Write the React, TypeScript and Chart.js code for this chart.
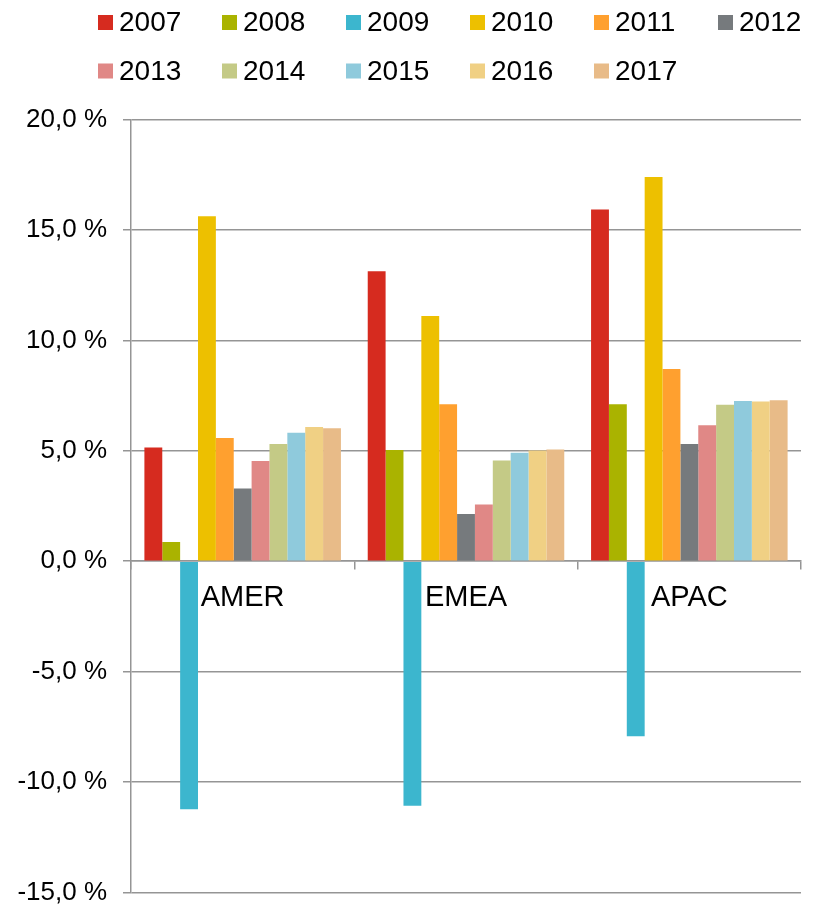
import React, { useEffect, useRef } from "react";
import { Chart, registerables } from "chart.js";

Chart.register(...registerables);

const categories = ["AMER", "EMEA", "APAC"];
const years = ["2007", "2008", "2009", "2010", "2011", "2012", "2013", "2014", "2015", "2016", "2017"];

const v2007 = [5.15, 13.13, 15.93];
const v2008 = [0.87, 5.03, 7.1];
const v2009 = [-11.23, -11.08, -7.93];
const v2010 = [15.62, 11.1, 17.4];
const v2011 = [5.58, 7.1, 8.7];
const v2012 = [3.29, 2.13, 5.31];
const v2013 = [4.53, 2.57, 6.16];
const v2014 = [5.3, 4.56, 7.08];
const v2015 = [5.81, 4.91, 7.25];
const v2016 = [6.07, 5.01, 7.23];
const v2017 = [6.02, 5.06, 7.29];

const seriesValues = [v2007, v2008, v2009, v2010, v2011, v2012, v2013, v2014, v2015, v2016, v2017];
const seriesColors = [
  "#D62B1F", "#AAB300", "#3CB6CE", "#EDC000", "#FFA02F", "#767A7D",
  "#E08886", "#C4CA86", "#8FCADC", "#F0D084", "#E8BB88",
];

const yMin = -15;
const yMax = 20;
const yStep = 5;

const FONT = "'Liberation Sans', Arial, sans-serif";
const GRID = "#959595";

const legendPlugin = {
  id: "customLegend",
  afterDraw(chart: any) {
    const ctx = chart.ctx;
    const startX = 98;
    const stepX = 124;
    const rowY = [22.5, 71];
    const perRow = 6;
    const box = 15;
    ctx.save();
    ctx.font = `28px ${FONT}`;
    ctx.textBaseline = "middle";
    ctx.textAlign = "left";
    chart.data.datasets.forEach((ds: any, i: number) => {
      const row = Math.floor(i / perRow);
      const col = i % perRow;
      const x = startX + col * stepX;
      const y = rowY[row];
      ctx.fillStyle = ds.backgroundColor;
      ctx.fillRect(x, y - box / 2, box, box);
      ctx.fillStyle = "#000";
      ctx.fillText(ds.label, x + box + 6, y + 1);
    });
    ctx.restore();
  },
};

export default function App() {
  const canvasRef = useRef<HTMLCanvasElement | null>(null);

  useEffect(() => {
    const canvas = canvasRef.current;
    if (!canvas) return;
    const chart = new Chart(canvas, {
      type: "bar",
      data: {
        labels: categories,
        datasets: years.map((y, i) => ({
          label: y,
          data: seriesValues[i],
          backgroundColor: seriesColors[i],
          borderWidth: 0,
          categoryPercentage: 0.88,
          barPercentage: 1,
        })),
      },
      options: {
        animation: false,
        responsive: true,
        maintainAspectRatio: false,
        layout: { padding: { top: 119.5, right: 20, bottom: 13, left: 0 } },
        plugins: {
          legend: { display: false },
          tooltip: { enabled: false },
        },
        scales: {
          x: {
            position: { y: 0 } as any,
            afterFit: (scale: any) => {
              scale.height = 0;
            },
            grid: {
              display: true,
              drawOnChartArea: false,
              drawTicks: true,
              tickLength: 8,
              offset: true,
              color: GRID,
              lineWidth: 1.5,
            },
            border: { display: true, color: GRID, width: 1.5 },
            ticks: {
              color: "#000",
              padding: 11,
              font: { family: FONT, size: 29 },
            },
          },
          y: {
            min: yMin,
            max: yMax,
            afterFit: (scale: any) => {
              scale.width = 131;
            },
            ticks: {
              stepSize: yStep,
              color: "#000",
              padding: 16,
              font: { family: FONT, size: 26 },
              callback: (v: any) => Number(v).toFixed(1).replace(".", ",") + " %",
            },
            grid: {
              color: GRID,
              lineWidth: 1.5,
              drawTicks: true,
              tickLength: 8,
            },
            border: { display: true, color: GRID, width: 1.5 },
          },
        },
      },
      plugins: [legendPlugin],
    });
    return () => chart.destroy();
  }, []);

  return (
    <div style={{ position: "fixed", left: 0, top: 0, width: "821px", height: "924px", background: "#fff" }}>
      <canvas ref={canvasRef} />
    </div>
  );
}
